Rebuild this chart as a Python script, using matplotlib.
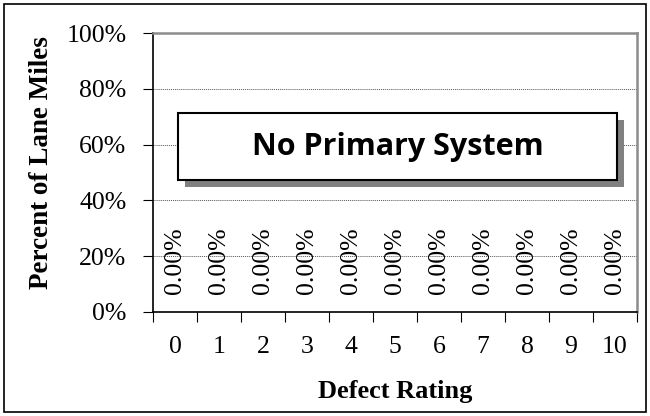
import matplotlib.pyplot as plt
from matplotlib.patches import Rectangle
import numpy as np

# data
ratings = [0, 1, 2, 3, 4, 5, 6, 7, 8, 9, 10]
pct_lane_miles = [0.0, 0.0, 0.0, 0.0, 0.0, 0.0, 0.0, 0.0, 0.0, 0.0, 0.0]
y_ticks = [0, 20, 40, 60, 80, 100]
note = 'No Primary System'

serif = 'Liberation Serif'

fig = plt.figure(figsize=(6.5, 4.16), dpi=100)
W, H = 650, 416

# outer chart border
fig.patches.append(Rectangle((4 / W, 4 / H), 642 / W, 408 / H, transform=fig.transFigure,
                             fill=False, edgecolor='black', linewidth=1.2))

ax = fig.add_axes([153 / W, 1 - 312 / H, (637 - 153) / W, (312 - 33) / H])

bars = ax.bar(ratings, pct_lane_miles, width=0.6, color='#4f81bd')
ax.bar_label(bars, labels=[f'{v:.2f}%' for v in pct_lane_miles], rotation=90,
             padding=13, fontsize=18.5, family=serif)

ax.set_xlim(-0.5, 10.5)
ax.set_ylim(0, 100)

ax.set_yticks(y_ticks)
ax.set_yticklabels([f'{t}%' for t in y_ticks], fontsize=18.5, family=serif)
ax.tick_params(axis='y', direction='out', length=7, width=0.8, pad=12)

ax.set_xticks(ratings)
ax.set_xticklabels([str(r) for r in ratings], fontsize=18.5, family=serif)
ax.set_xticks(np.arange(-0.5, 11, 1), minor=True)
ax.tick_params(axis='x', which='major', length=0, pad=17)
ax.tick_params(axis='x', which='minor', direction='out', length=7, width=0.8)

for t in y_ticks[1:-1]:
    ax.axhline(t, color='#555555', linestyle=(0, (1, 1)), linewidth=0.7, zorder=0)

ax.spines['left'].set_color('black')
ax.spines['bottom'].set_color('black')
ax.spines['left'].set_linewidth(1.2)
ax.spines['bottom'].set_linewidth(1.2)
ax.spines['top'].set_color('#8c8c8c')
ax.spines['right'].set_color('#8c8c8c')
ax.spines['top'].set_linewidth(1.8)
ax.spines['right'].set_linewidth(1.8)

ax.set_ylabel('Percent of Lane Miles', fontsize=19.5, fontweight='bold', family=serif)
ax.yaxis.set_label_coords(-0.205, 0.535)
ax.set_xlabel('Defect Rating', fontsize=19, fontweight='bold', family=serif)
ax.xaxis.set_label_coords(0.5, -0.245)

# note box with shadow
bx0, by0, bx1, by1 = 178, 113, 617, 180
fig.patches.append(Rectangle(((bx0 + 7) / W, 1 - (by1 + 7) / H), (bx1 - bx0) / W, (by1 - by0) / H,
                             transform=fig.transFigure, facecolor='#808080', edgecolor='none'))
fig.patches.append(Rectangle((bx0 / W, 1 - by1 / H), (bx1 - bx0) / W, (by1 - by0) / H,
                             transform=fig.transFigure, facecolor='white', edgecolor='black',
                             linewidth=1.5))
fig.text((bx0 + bx1) / 2 / W, 1 - (by0 + by1) / 2 / H, note, ha='center', va='center',
         fontsize=22, fontweight='bold', family='Open Sans')

fig.savefig('out.png', dpi=100)
